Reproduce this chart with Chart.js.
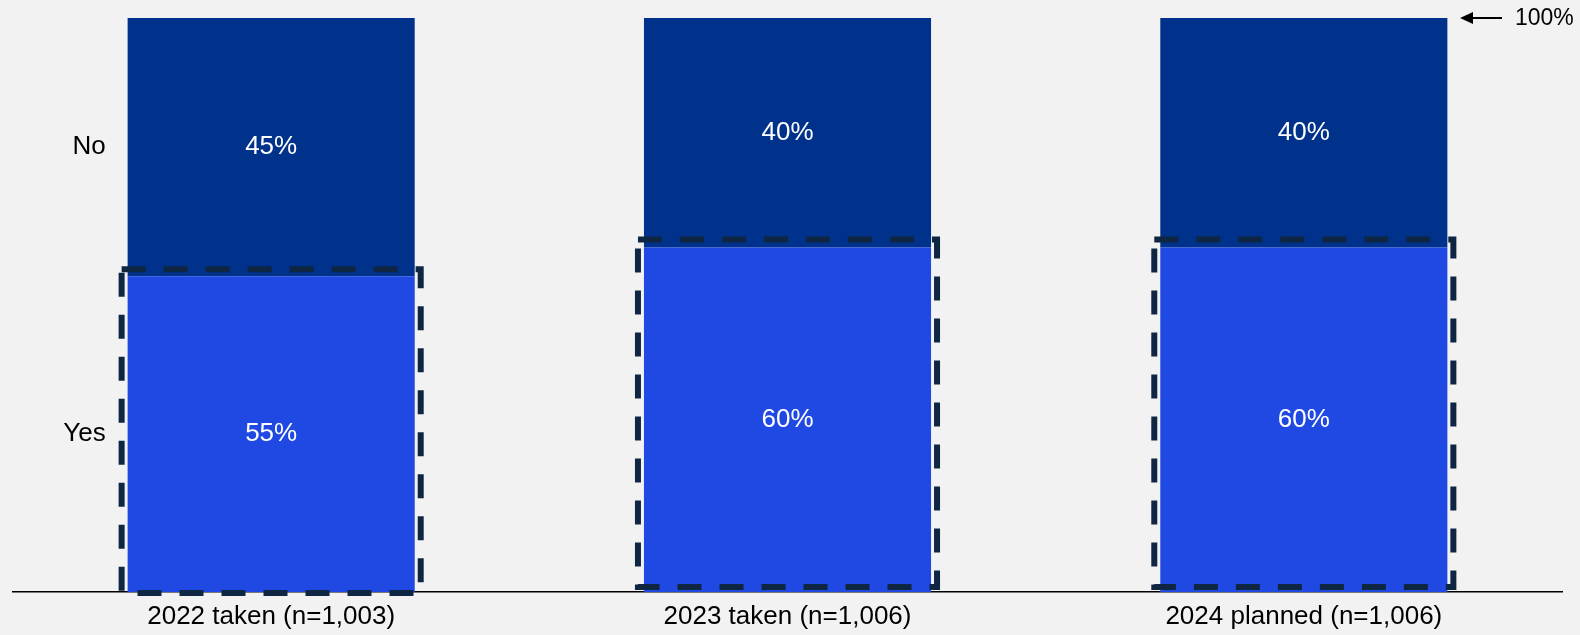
<!DOCTYPE html>
<html>
<head>
<meta charset="utf-8">
<script src="https://cdn.jsdelivr.net/npm/chart.js@4/dist/chart.umd.min.js"></script>
<style>
  html, body { margin: 0; padding: 0; background: #f2f2f2; }
  #wrap { width: 1580px; height: 635px; }
</style>
</head>
<body>
<div id="wrap"><canvas id="chart"></canvas></div>
<script>
const categories = ['2022 taken (n=1,003)', '2023 taken (n=1,006)', '2024 planned (n=1,006)'];
const yesValues = [55, 60, 60];
const noValues = [45, 40, 40];
const seriesNames = ['Yes', 'No'];
const topNote = '100%';

// dashed box offsets (top, bottom) per bar, px
const boxNudge = [[-7, 1], [-8, -5], [-8, -5]];

const FONT = "'Liberation Sans', Arial, sans-serif";

// white % labels, series names on the left, dashed boxes, 100% arrow
const overlay = {
    id: 'overlay',
    afterDatasetsDraw(chart) {
        const ctx = chart.ctx;
        const yScale = chart.scales.y;
        ctx.save();
        ctx.font = '26px ' + FONT;
        ctx.textAlign = 'center';
        ctx.textBaseline = 'middle';
        ctx.fillStyle = '#ffffff';
        chart.data.datasets.forEach((ds, di) => {
            chart.getDatasetMeta(di).data.forEach((bar, i) => {
                const midY = (bar.y + bar.base) / 2;
                ctx.fillText(ds.data[i] + '%', bar.x, midY);
            });
        });

        // series names next to first bar
        ctx.fillStyle = '#000000';
        ctx.textAlign = 'right';
        chart.data.datasets.forEach((ds, di) => {
            const bar = chart.getDatasetMeta(di).data[0];
            ctx.fillText(ds.label, bar.x - bar.width / 2 - 22, (bar.y + bar.base) / 2);
        });

        // dashed boxes round the Yes part
        ctx.strokeStyle = '#0e2641';
        ctx.lineWidth = 6;
        ctx.setLineDash([24, 18]);
        chart.getDatasetMeta(0).data.forEach((bar, i) => {
            const left = bar.x - bar.width / 2 - 6;
            const right = bar.x + bar.width / 2 + 6;
            const top = bar.y + boxNudge[i][0];
            const bottom = bar.base + boxNudge[i][1];
            ctx.strokeRect(left, top, right - left, bottom - top);
        });
        ctx.setLineDash([]);

        // 100% arrow
        const y100 = yScale.getPixelForValue(100);
        const ax = chart.chartArea.right - 102;
        ctx.strokeStyle = '#000000';
        ctx.lineWidth = 2;
        ctx.beginPath();
        ctx.moveTo(ax + 42, y100);
        ctx.lineTo(ax + 8, y100);
        ctx.stroke();
        ctx.beginPath();
        ctx.moveTo(ax, y100);
        ctx.lineTo(ax + 13, y100 - 6);
        ctx.lineTo(ax + 13, y100 + 6);
        ctx.closePath();
        ctx.fill();
        ctx.textAlign = 'left';
        ctx.font = '23px ' + FONT;
        ctx.fillText(topNote, ax + 55, y100 + 1);
        ctx.restore();
    }
};

new Chart(document.getElementById('chart'), {
    type: 'bar',
    data: {
        labels: categories,
        datasets: [
            { label: seriesNames[0], data: yesValues, backgroundColor: '#1f49e2' },
            { label: seriesNames[1], data: noValues, backgroundColor: '#00328b' }
        ]
    },
    options: {
        responsive: true,
        maintainAspectRatio: false,
        animation: false,
        layout: { padding: { left: 13, right: 18, top: 18, bottom: 0 } },
        datasets: { bar: { barPercentage: 0.556, categoryPercentage: 1, borderWidth: 0 } },
        plugins: {
            legend: { display: false },
            tooltip: { enabled: false }
        },
        scales: {
            x: {
                stacked: true,
                grid: { display: false, drawTicks: false },
                border: { display: true, color: '#000000', width: 1.5 },
                ticks: { color: '#000000', font: { size: 26, family: FONT }, padding: 9, maxRotation: 0 },
                afterFit(scale) { scale.height = 43; }
            },
            y: {
                stacked: true,
                display: false,
                min: 0,
                max: 100
            }
        }
    },
    plugins: [overlay]
});
</script>
</body>
</html>
